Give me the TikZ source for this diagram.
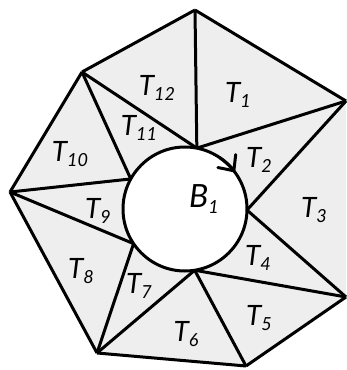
\documentclass[tikz,border=0pt]{standalone}
\usepackage{fontspec}
\setmainfont{Lato}
\usepackage{xcolor}
\usepackage{tikz}
\usetikzlibrary{arrows.meta}

\definecolor{ringgray}{RGB}{238,238,238}
\newcommand{\lsub}[1]{\raisebox{-0.2em}{\fontsize{18}{18}\selectfont #1}}

\begin{document}
\begin{tikzpicture}[x=1pt, y=-1pt, line width=3pt, line join=round,
  lab/.style={font=\fontsize{28}{28}\selectfont\itshape, inner sep=0pt},
  edge/.style={draw=black}]
\useasboundingbox (0,0) rectangle (347,370);
% outer corners
\coordinate (o1) at (195,10);
\coordinate (o2) at (346,101);
\coordinate (o3) at (346,297);
\coordinate (o4) at (246,366);
\coordinate (o5) at (97,353);
\coordinate (o6) at (10,192);
\coordinate (o7) at (82,72);
% hole
\coordinate (c) at (185,209);
\path (c) ++(-79:62) coordinate (i1);
\path (c) ++(1:62) coordinate (i2);
\path (c) ++(81:62) coordinate (i3);
\path (c) ++(146:62) coordinate (i4);
\path (c) ++(209:62) coordinate (i5);
\fill[ringgray] (o1) -- (o2) -- (o3) -- (o4) -- (o5) -- (o6) -- (o7) -- cycle;
\foreach \a/\b in {o7/o1, o1/o2, o3/o4, o4/o5, o5/o6, o6/o7,
  o1/i1, o7/i1, o2/i1, o2/i2, o3/i2, o3/i3, o4/i3, o5/i3,
  o5/i4, o6/i4, o6/i5, o7/i5}
  \draw[edge] (\a) -- (\b);
\draw[fill=white] (c) circle[radius=62];
\draw[line cap=round, -{Straight Barb[length=12pt, width=22pt, line cap=round]}]
  ([shift={(-56:62)}]c) arc[start angle=-56, end angle=-36, radius=62];
% labels
\node[lab] (t1) at (238,95) {T\lsub{1}};
\node[lab] (t2) at (259,160) {T\lsub{2}};
\node[lab] (t3) at (314,210) {T\lsub{3}};
\node[lab] (t4) at (258,258) {T\lsub{4}};
\node[lab] (t5) at (259,318) {T\lsub{5}};
\node[lab] (t6) at (186,334) {T\lsub{6}};
\node[lab] (t7) at (139,286) {T\lsub{7}};
\node[lab] (t8) at (81,271) {T\lsub{8}};
\node[lab] (t9) at (98,211) {T\lsub{9}};
\node[lab] (t10) at (70,154) {T\lsub{10}};
\node[lab] (t11) at (139,128) {T\lsub{11}};
\node[lab] (t12) at (157,88) {T\lsub{12}};
\node[lab, font=\fontsize{32}{32}\selectfont\itshape] (b1) at (204,199) {B\lsub{1}};
\end{tikzpicture}
\end{document}
